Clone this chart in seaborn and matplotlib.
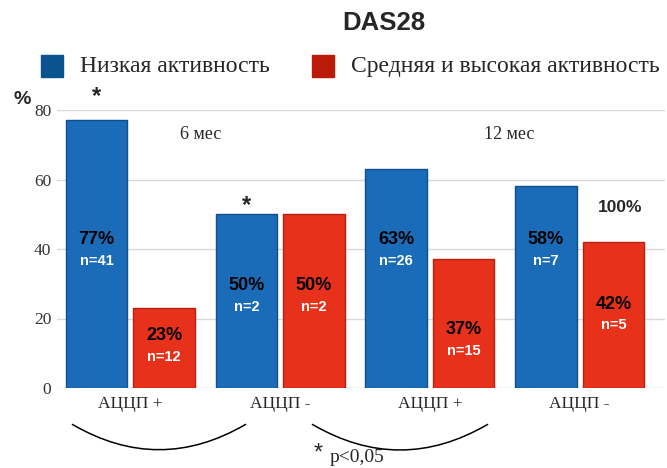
import pandas as pd
import matplotlib.pyplot as plt
import seaborn as sns
from matplotlib.patches import Rectangle, FancyArrowPatch

# data
groups = ["6 мес АЦЦП +", "6 мес АЦЦП -", "12 мес АЦЦП +", "12 мес АЦЦП -"]
tick_labels = ["АЦЦП +", "АЦЦП -", "АЦЦП +", "АЦЦП -"]
low_pct = [77, 50, 63, 58]
high_pct = [23, 50, 37, 42]
low_n = [41, 2, 26, 7]
high_n = [12, 2, 15, 5]
series = ["Низкая активность", "Средняя и высокая активность"]

colors = ["#1a6cb8", "#e8311a"]
edge_colors = ["#0f4f8c", "#b52010"]

df = pd.DataFrame({
    "group": groups * 2,
    "series": [series[0]] * 4 + [series[1]] * 4,
    "pct": low_pct + high_pct,
})

sns.set_style("white")
plt.rcParams["font.family"] = ["DejaVu Sans"]
serif = "Liberation Serif"
sans = "Liberation Sans"

fig = plt.figure(figsize=(6.67, 4.68), dpi=100)
ax = fig.add_axes([57 / 667, 80 / 468, 608 / 667, 278 / 468])

sns.barplot(data=df, x="group", y="pct", hue="series", order=groups,
            hue_order=series, palette=colors, saturation=1, width=0.9,
            legend=False, ax=ax)

# narrow the bars a little so there's a gap inside each pair
for i, cont in enumerate(ax.containers):
    for bar in cont:
        cx = bar.get_x() + bar.get_width() / 2
        bar.set_width(0.41)
        bar.set_x(cx - 0.205)
        bar.set_edgecolor(edge_colors[i])
        bar.set_linewidth(1.0)
        bar.set_zorder(3)

ax.set_ylim(0, 80)
ax.set_xlim(-0.49, 3.57)
ax.set_yticks([0, 20, 40, 60, 80])
ax.yaxis.grid(True, color="#d8d8d8", linewidth=1)
ax.set_axisbelow(True)
sns.despine(ax=ax, left=True, bottom=True)
ax.set_xlabel("")
ax.set_ylabel("")
ax.set_xticks(range(len(groups)))
ax.set_xticklabels(tick_labels, fontfamily=serif, fontsize=12.5)
ax.tick_params(axis="x", length=0, pad=6)
ax.tick_params(axis="y", length=0, pad=4)
for t in ax.get_yticklabels():
    t.set_fontfamily(serif)
    t.set_fontsize(12.5)
    t.set_color("#333333")

# value labels inside bars (label heights chosen to follow the original layout)
low_label_y = [42.6, 29.4, 42.6, 42.6]
high_label_y = [15.0, 29.4, 16.7, 24.0]
off = 0.225
for i in range(len(groups)):
    for dx, pct, n, ly in [(-off, low_pct[i], low_n[i], low_label_y[i]),
                           (off, high_pct[i], high_n[i], high_label_y[i])]:
        ax.text(i + dx, ly, f"{pct}%", ha="center", va="center",
                fontfamily=sans, fontweight="bold", fontsize=13, color="black", zorder=5)
        ax.text(i + dx, ly - 6, f"n={n}", ha="center", va="center",
                fontfamily=sans, fontweight="bold", fontsize=10.5, color="white", zorder=5)

# annotations
ax.text(-off, 84, "*", ha="center", va="center", fontsize=17, fontweight="bold",
        fontfamily=sans, clip_on=False)
ax.text(1 - off, 52.5, "*", ha="center", va="center", fontsize=17, fontweight="bold",
        fontfamily=sans)
ax.text(0.47, 73, "6 мес", ha="center", va="center", fontfamily=serif, fontsize=13)
ax.text(2.53, 73, "12 мес", ha="center", va="center", fontfamily=serif, fontsize=13)
ax.text(3.27, 52, "100%", ha="center", va="center", fontfamily=sans,
        fontweight="bold", fontsize=12.5)

fig.text(22 / 667, 1 - 100 / 468, "%", ha="center", va="center",
         fontfamily=sans, fontweight="bold", fontsize=14)
fig.text(384 / 667, 1 - 23 / 468, "DAS28", ha="center", va="center",
         fontfamily=sans, fontweight="bold", fontsize=18.5)

# legend
for x0, col, label in [(41, "#0b5291", series[0]), (312, "#bb1a08", series[1])]:
    fig.patches.append(Rectangle((x0 / 667, 1 - 77 / 468), 22 / 667, 22 / 468,
                                 transform=fig.transFigure, color=col))
    fig.text((x0 + 39) / 667, 1 - 67 / 468, label, ha="left", va="center",
             fontfamily=serif, fontsize=17)

# arcs under the tick labels
for x0, x1 in [(70, 248), (310, 490)]:
    fig.add_artist(FancyArrowPatch(
        (x0 / 667, 1 - 423 / 468), (x1 / 667, 1 - 423 / 468),
        transform=fig.transFigure, arrowstyle="-", color="black", linewidth=1.1,
        connectionstyle="arc3,rad=0.3"))

fig.text(318 / 667, 1 - 454 / 468, "*", ha="center", va="center",
         fontfamily=sans, fontsize=17)
fig.text(330 / 667, 1 - 458 / 468, "p<0,05", ha="left", va="center",
         fontfamily=serif, fontsize=14)

fig.savefig("out.png", dpi=100)
